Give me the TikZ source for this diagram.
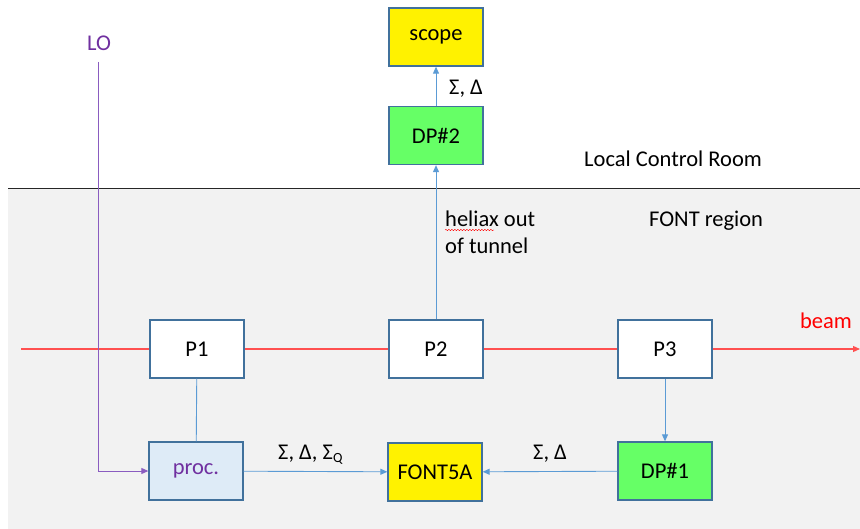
\documentclass[tikz,border=0pt]{standalone}
\usepackage{fontspec}
\setmainfont{Carlito}
\usetikzlibrary{arrows.meta,decorations.pathmorphing}
\definecolor{boxline}{HTML}{41719C}
\definecolor{link}{HTML}{5B9BD5}
\definecolor{lopurple}{HTML}{7030A0}
\definecolor{loline}{HTML}{8A5CC0}
\definecolor{beamline}{HTML}{FF5050}
\definecolor{region}{HTML}{F2F2F2}
\definecolor{dpgreen}{HTML}{66FF66}
\definecolor{procblue}{HTML}{DEEBF7}
\tikzset{
  blk/.style={draw=boxline, line width=1.3pt, minimum width=94pt, minimum height=58pt,
    inner sep=0pt, font=\fontsize{22.5}{26}\selectfont, text=black},
  pickup/.style={blk, fill=white},
  yel/.style={blk, fill=yellow},
  grn/.style={blk, fill=dpgreen},
  conn/.style={draw=link, line width=0.9pt},
  arr/.style={conn, -{Triangle[length=7pt,width=6pt]}},
  lbl/.style={font=\fontsize{22.5}{26}\selectfont, text=black, inner sep=0pt},
}
\begin{document}
\begin{tikzpicture}[x=1pt,y=-1pt]
\useasboundingbox (0,0) rectangle (860,529);
% tunnel area
\fill[region] (8,189) rectangle (860,529);
\draw[black!85, line width=1pt] (8,189) -- (860,189);

% beam line
\coordinate (beamL) at (21,349);
\coordinate (beamR) at (860,349);
\draw[color=beamline, line width=1.1pt, -{Triangle[length=7pt,width=6pt]}] (beamL) -- (beamR);
\node[lbl, text=red, anchor=base] (beamlbl) at (826,329) {beam};

% boxes
\node[yel]  (scope) at (436,37)  {scope};
\node[grn]  (dp2)   at (436,135.5) {DP\#2};
\node[pickup] (p1)  at (197,349) {P1};
\node[pickup] (p2)  at (436,349) {P2};
\node[pickup] (p3)  at (665,349) {P3};
\node[blk, fill=procblue, text=lopurple] (proc) at (196,471) {proc.};
\node[yel]  (font5a) at (435,472) {FONT5A};
\node[grn]  (dp1)   at (665,471) {DP\#1};

% local oscillator
\node[lbl, text=lopurple, anchor=base] (lo) at (99,51) {LO};
\coordinate (lotop) at (98,62);
\draw[color=loline, line width=0.9pt, -{Triangle[length=7pt,width=6pt]}]
  (lotop) |- (proc.west);

% signal connections
\draw[arr] (dp2) -- (scope);
\draw[arr] (p2) -- (dp2);
\draw[conn] (p1) -- (proc);
\draw[arr] (p3) -- (dp1);
\draw[arr] (proc) -- (font5a);
\draw[arr] (dp1) -- (font5a);

% labels
\node[lbl, anchor=base west] (sd2) at (449,95) {Σ, Δ};
\node[lbl, anchor=base west] (sdq) at (278,459) {Σ, Δ, Σ\textsubscript{\fontsize{14}{16}\selectfont Q}};
\node[lbl, anchor=base west] (sd1) at (533,459) {Σ, Δ};
\node[lbl, anchor=base west] (hel) at (445,227) {heliax out};
\node[lbl, anchor=base west] (tun) at (445,254) {of tunnel};
\draw[red, line width=0.4pt, decorate, decoration={snake, amplitude=0.7pt, segment length=3pt}]
  (hel.base west) ++(0,3) -- ++(49,0);
\node[lbl, anchor=base west] (lcr) at (584,167) {Local Control Room};
\node[lbl, anchor=base west] (fr) at (649,227) {FONT region};
\end{tikzpicture}
\end{document}
